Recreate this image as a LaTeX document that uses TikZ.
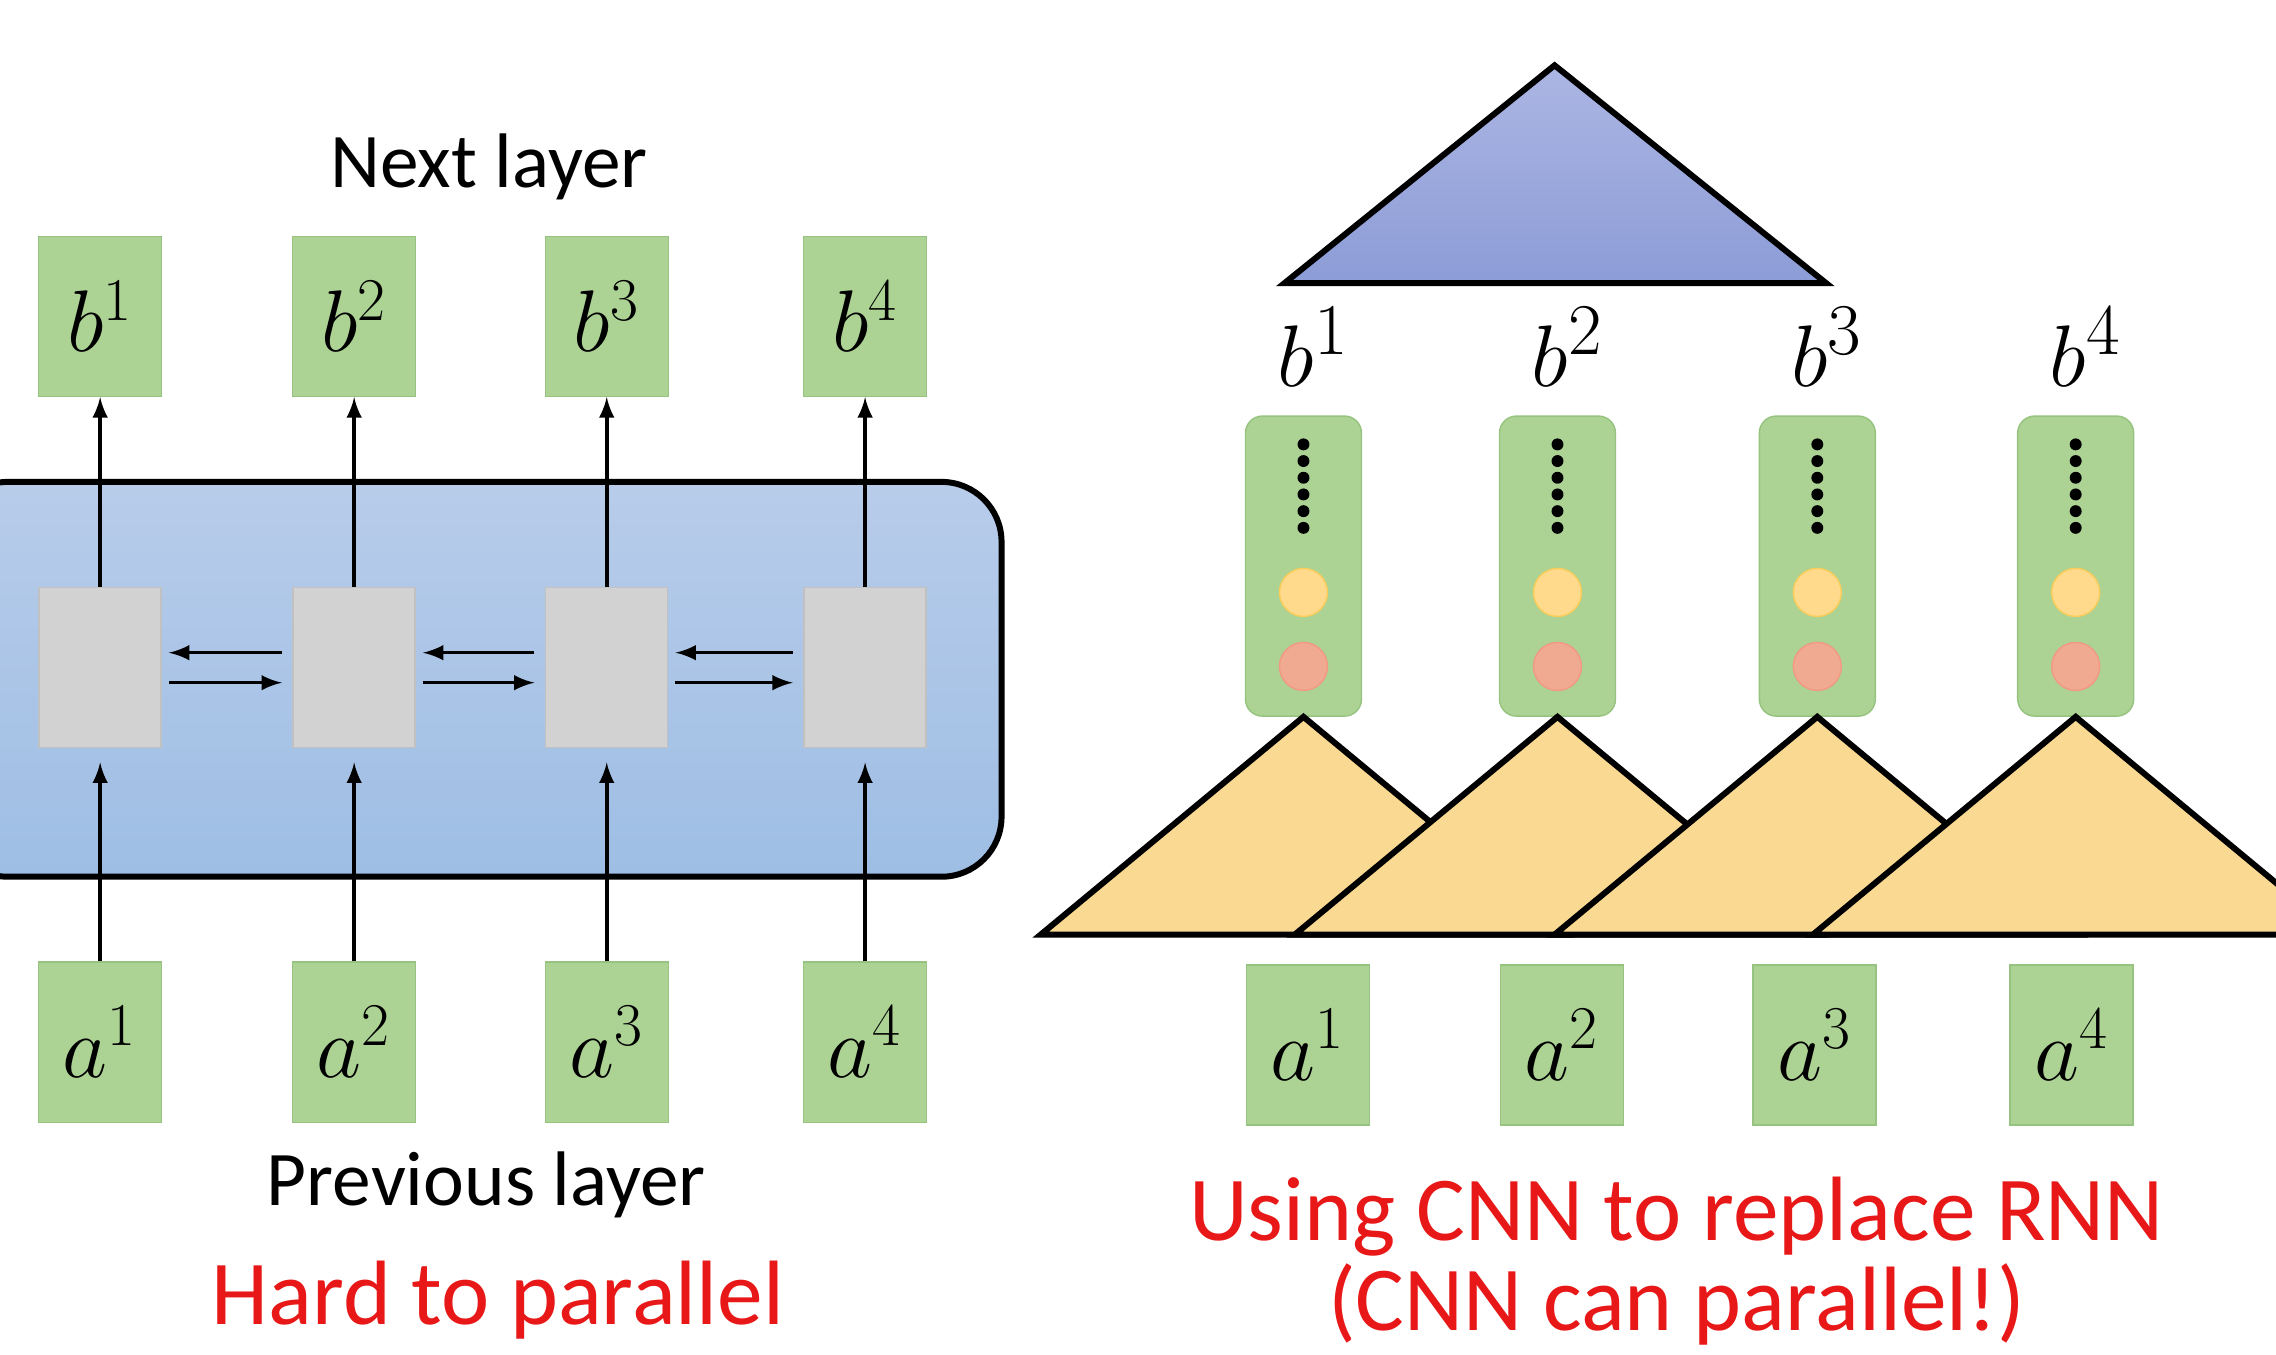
\documentclass[tikz,border=0pt]{standalone}
\usepackage{fontspec}
\setmainfont{Carlito}
\usepackage{tikz}
\usetikzlibrary{calc,arrows,positioning}
\definecolor{boxgreen}{RGB}{172,210,148}
\definecolor{boxgreenline}{RGB}{150,196,128}
\definecolor{cellgrey}{RGB}{210,210,210}
\definecolor{rnntop}{RGB}{184,204,234}
\definecolor{rnnbot}{RGB}{158,190,228}
\definecolor{tritop}{RGB}{172,182,228}
\definecolor{tribot}{RGB}{140,156,214}
\definecolor{triorange}{RGB}{250,217,146}
\definecolor{dotyellow}{RGB}{255,218,140}
\definecolor{dotyellowline}{RGB}{250,205,90}
\definecolor{dotpink}{RGB}{240,170,145}
\definecolor{slidered}{RGB}{232,24,24}

\begin{document}
\begin{tikzpicture}[x=0.014515cm,y=-0.014515cm]

\tikzset{greenbox/.style={fill=boxgreen,draw=boxgreenline,inner sep=0pt,minimum width=1.23cm,minimum height=1.6cm,font=\fontsize{24}{28}\selectfont},
cellbox/.style={fill=cellgrey,draw=cellgrey!92!black,inner sep=0pt,minimum width=1.22cm,minimum height=1.6cm},
column/.style={fill=boxgreen,draw=boxgreenline,rounded corners=0.17cm,inner sep=0pt,minimum width=1.16cm,minimum height=3cm},
layertext/.style={font=\fontsize{22}{26}\selectfont},
redtext/.style={text=slidered,font=\fontsize{26}{30}\selectfont},
conn/.style={->,>=latex,line width=1pt},
tri/.style={draw=black,line width=1.7pt,line join=miter}}

\clip (0,0) rectangle (1568,933);
\fill[white] (0,0) rectangle (1568,933);

% RNN block
\draw[line width=1.7pt,rounded corners=0.6cm,top color=rnntop,bottom color=rnnbot] (-36,332) rectangle (690,604);

% cells, outputs and inputs
\foreach \i/\x in {1/69,2/244,3/418,4/596} {
  \node[cellbox] (h\i) at (\x,460) {};
  \node[greenbox] (b\i) at (\x,218) {$b^{\i}$};
  \node[greenbox] (a\i) at (\x,718) {$a^{\i}$};
  \draw[conn] (h\i) -- (b\i);
  \draw[conn,shorten >=4pt] (a\i) -- (h\i);
}
\foreach \i/\j in {1/2,2/3,3/4} {
  \draw[conn,shorten <=3pt,shorten >=2pt] ([yshift=0.15cm]h\j.west) -- ([yshift=0.15cm]h\i.east);
  \draw[conn,shorten <=2pt,shorten >=3pt] ([yshift=-0.15cm]h\i.east) -- ([yshift=-0.15cm]h\j.west);
}

\node[layertext] (next) at (337,115) {Next layer};
\node[layertext] (prev) at (335,816) {Previous layer};
\node[redtext] (hard) at (343,896) {Hard to parallel};

% CNN side
\draw[tri,top color=tritop,bottom color=tribot] (1071,45) -- (1258,195) -- (885,195) -- cycle;

\foreach \i/\x in {1/898,2/1073,3/1252,4/1430} {
  \node[column] (c\i) at (\x,390) {};
  \node[font=\fontsize{29}{32}\selectfont,inner sep=0pt,above=0.28cm of c\i,xshift=0.1cm] (cb\i) {$b^{\i}$};
  \foreach \k in {0,...,5} \fill ($(c\i.north)+(0,20+\k*11.5)$) circle (1.7pt);
  \node[circle,fill=dotyellow,draw=dotyellowline,inner sep=0pt,minimum size=0.48cm] (y\i) at ($(c\i.north)+(0,122)$) {};
  \node[circle,fill=dotpink,draw=dotpink!90!red,inner sep=0pt,minimum size=0.48cm] (p\i) at ($(c\i.north)+(0,173)$) {};
}

% filters
\foreach \i in {1,...,4} \draw[tri,fill=triorange] (c\i.south) -- ++(-181,150) -- ++(362,0) -- cycle;

\foreach \i/\x in {1/901,2/1076,3/1250,4/1427} \node[greenbox] (ra\i) at (\x,720) {$a^{\i}$};

\node[redtext] (using) at (1155,838) {Using CNN to replace RNN};
\node[redtext] (can) at (1155,899) {(CNN can parallel!)};

\end{tikzpicture}
\end{document}
